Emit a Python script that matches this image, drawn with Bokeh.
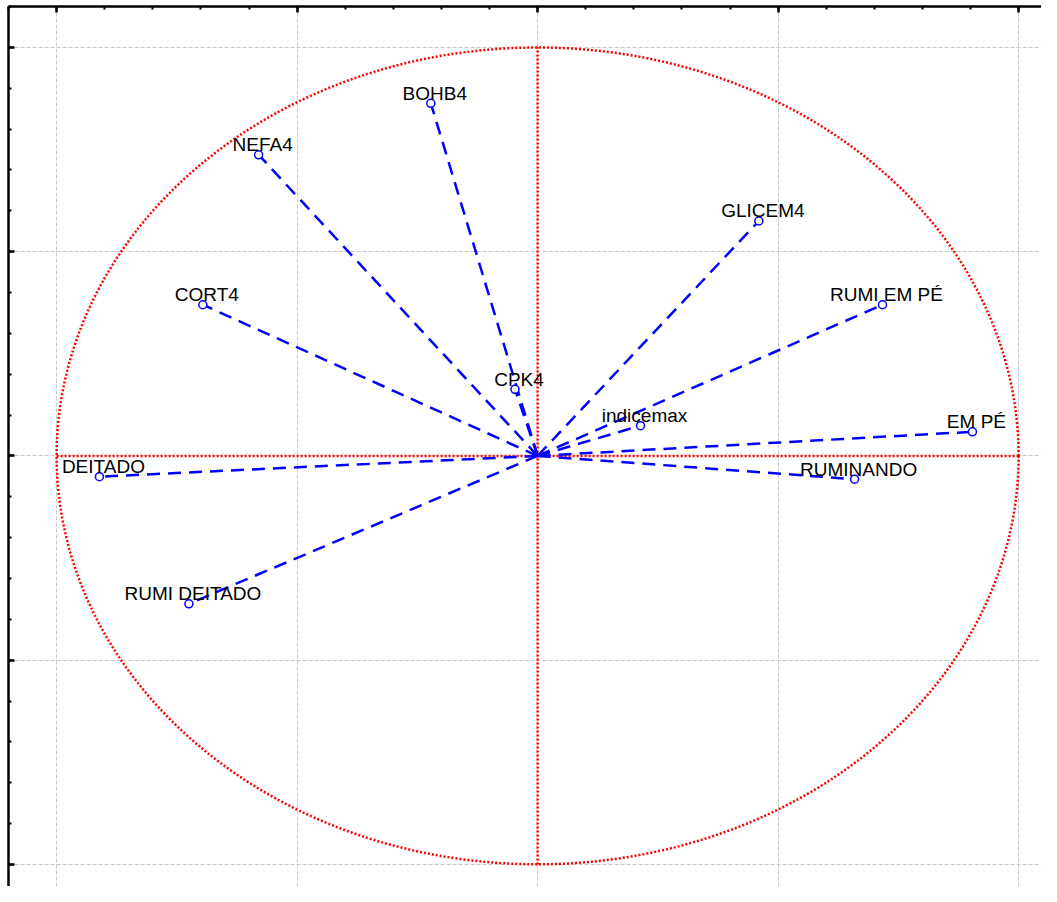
from bokeh.plotting import figure
from bokeh.models import FixedTicker, Range1d
from bokeh.core.properties import value
from bokeh.embed import file_html
from bokeh.resources import INLINE

# Variables (PCA loadings on factor 1 / factor 2)
names = ["BOHB4", "NEFA4", "CORT4", "GLICEM4", "RUMI EM PÉ", "CPK4",
         "indicemax", "EM PÉ", "RUMINANDO", "DEITADO", "RUMI DEITADO"]
f1 = [-0.222, -0.580, -0.696, 0.460, 0.717, -0.047, 0.214, 0.904, 0.659, -0.911, -0.725]
f2 = [0.863, 0.737, 0.370, 0.575, 0.370, 0.163, 0.074, 0.059, -0.057, -0.051, -0.362]
origin = [0.0] * len(names)

major_ticks = [-1.0, -0.5, 0.0, 0.5, 1.0]
minor_ticks = [round(-1.1 + 0.1 * i, 2) for i in range(23)]

p = figure(width=1041, height=886, output_backend="svg", toolbar_location=None,
           x_range=Range1d(-1.1, 1.0476), y_range=Range1d(-1.054, 1.10),
           x_axis_location="above", min_border=0, min_border_left=8,
           min_border_top=6, outline_line_color=None)
p.background_fill_color = "white"

for ax in (p.xaxis[0], p.yaxis[0]):
    ax.ticker = FixedTicker(ticks=major_ticks, minor_ticks=minor_ticks)
    ax.major_label_overrides = {t: "" for t in major_ticks}
    ax.major_label_standoff = 0
    ax.axis_line_width = 2.5
    ax.axis_line_color = "black"
    ax.major_tick_in = 6
    ax.major_tick_out = 0
    ax.major_tick_line_width = 2.5
    ax.minor_tick_in = 3
    ax.minor_tick_out = 0
    ax.minor_tick_line_width = 2

p.grid.grid_line_color = "#c8c8c8"
p.grid.grid_line_dash = "4 2"
p.grid.grid_line_width = 1

# unit circle and cross lines
p.ellipse(x=[0], y=[0], width=[2], height=[2], fill_color=None,
          line_color="#ff0000", line_dash="2 2", line_width=2.5)
p.segment(x0=[-1.0, 0.0], y0=[0.0, -1.0], x1=[1.0, 0.0], y1=[0.0, 1.0],
          line_color="#ff0000", line_dash="2 2", line_width=2.5)

# loading vectors
p.segment(x0=origin, y0=origin, x1=f1, y1=f2, line_color="#0000ff",
          line_dash="13 8", line_width=2.5)
p.scatter(x=f1, y=f2, size=8, marker="circle", fill_color="white",
          line_color="#0000ff", line_width=1.5)
p.text(x=f1, y=f2, text=names, x_offset=4, y_offset=-10,
       text_align="center", text_baseline="alphabetic",
       text_font=value("Liberation Sans"), text_font_size="19px",
       text_color="black")

open("out.html", "w").write(file_html(p, INLINE))
